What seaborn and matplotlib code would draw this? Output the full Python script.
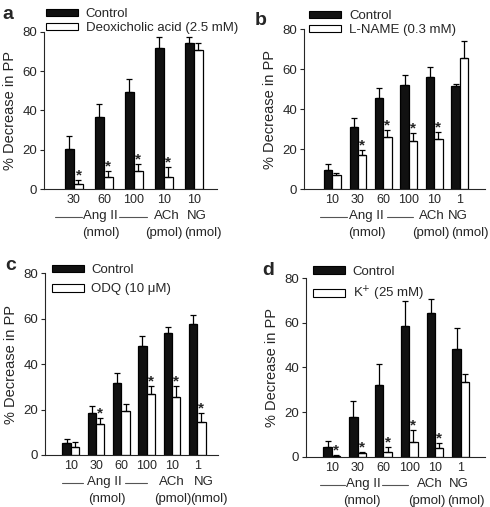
import numpy as np
import pandas as pd
import matplotlib
matplotlib.use("Agg")
import matplotlib.pyplot as plt
import matplotlib.transforms as mtransforms
from matplotlib.patches import Patch
import seaborn as sns

# Panel a: deoxicholic acid
a_ticks = ["30", "60", "100", "10", "10"]
a_ctrl = [20.5, 36.8, 49.5, 71.9, 74.0]
a_ctrl_err = [6.5, 6.4, 6.4, 5.6, 3.5]
a_trt = [2.5, 5.9, 9.2, 5.9, 70.7]
a_trt_err = [2.1, 3.4, 3.5, 5.5, 3.3]
a_star = [1, 1, 1, 1, 0]

# Panel b: L-NAME
b_ticks = ["10", "30", "60", "100", "10", "1"]
b_ctrl = [9.5, 31.2, 45.4, 52.1, 56.3, 51.5]
b_ctrl_err = [3.0, 4.2, 5.0, 5.0, 5.0, 1.1]
b_trt = [7.0, 17.0, 26.2, 24.0, 25.0, 65.4]
b_trt_err = [1.2, 2.5, 3.3, 3.9, 3.7, 8.9]
b_star = [0, 1, 1, 1, 1, 0]

# Panel c: ODQ
c_ticks = ["10", "30", "60", "100", "10", "1"]
c_ctrl = [5.1, 18.6, 31.9, 48.0, 53.6, 57.6]
c_ctrl_err = [1.8, 2.8, 4.1, 4.4, 2.6, 4.1]
c_trt = [3.7, 13.5, 19.4, 26.7, 25.4, 14.4]
c_trt_err = [2.2, 2.7, 2.9, 3.7, 5.0, 4.0]
c_star = [0, 1, 0, 1, 1, 1]

# Panel d: K+
d_ticks = ["10", "30", "60", "100", "10", "1"]
d_ctrl = [4.5, 17.9, 32.1, 58.6, 64.6, 48.3]
d_ctrl_err = [2.5, 7.1, 9.3, 11.4, 6.0, 9.2]
d_trt = [0.4, 1.5, 2.2, 6.7, 3.7, 33.3]
d_trt_err = [0.3, 0.7, 2.3, 5.3, 2.3, 3.8]
d_star = [1, 1, 1, 1, 1, 0]

sns.set_theme(style="ticks")
plt.rcParams["font.family"] = ["Liberation Sans", "DejaVu Sans"]
plt.rcParams["axes.linewidth"] = 0.8

fig = plt.figure(figsize=(4.9, 5.07), dpi=100)
PX = 0.72  # points per pixel at dpi 100

panels = [
    dict(letter="a", rect=[0.0898, 0.6272, 0.353, 0.3103], xlim=(-1.0, 4.77), width=0.6,
         ticks=a_ticks, ctrl=a_ctrl, ctrl_err=a_ctrl_err, trt=a_trt, trt_err=a_trt_err, star=a_star,
         label="Deoxicholic acid (2.5 mM)", leg=(0.012, 1.148), legsp=0.15,
         ang=0.87, lines=[(-0.63, 0.27), (1.5, 2.43)], ach=3.1, ng=4.1, u1=0.9, u2=3.0, u3=4.3,
         lpos=(2 / 490, 1 - 19 / 507)),
    dict(letter="b", rect=[0.6204, 0.6272, 0.3694, 0.315], xlim=(-1.11, 5.99), width=0.65,
         ticks=b_ticks, ctrl=b_ctrl, ctrl_err=b_ctrl_err, trt=b_trt, trt_err=b_trt_err, star=b_star,
         label="L-NAME (0.3 mM)", leg=(0.03, 1.12), legsp=0.15,
         ang=1.32, lines=[(-0.48, 0.58), (2.14, 3.16)], ach=3.9, ng=4.93, u1=1.35, u2=3.85, u3=5.4,
         lpos=(255 / 490, 1 - 25 / 507)),
    dict(letter="c", rect=[0.0918, 0.1026, 0.353, 0.3584], xlim=(-1.02, 5.82), width=0.66,
         ticks=c_ticks, ctrl=c_ctrl, ctrl_err=c_ctrl_err, trt=c_trt, trt_err=c_trt_err, star=c_star,
         label="ODQ (10 \u03bcM)", leg=(0.04, 1.05), legsp=0.55,
         ang=1.32, lines=[(-0.34, 0.49), (2.15, 3.0)], ach=4.0, ng=5.27, u1=1.42, u2=4.05, u3=5.45,
         lpos=(5 / 490, 1 - 270 / 507)),
    dict(letter="d", rect=[0.6245, 0.0992, 0.3653, 0.352], xlim=(-1.0, 5.94), width=0.65,
         ticks=d_ticks, ctrl=d_ctrl, ctrl_err=d_ctrl_err, trt=d_trt, trt_err=d_trt_err, star=d_star,
         label="K$^{+}$ (25 mM)", leg=(0.04, 1.07), legsp=0.55,
         ang=1.21, lines=[(-0.45, 0.52), (1.95, 2.96)], ach=3.81, ng=4.93, u1=1.18, u2=3.7, u3=5.2,
         lpos=(262 / 490, 1 - 275 / 507)),
]

for p in panels:
    ax = fig.add_axes(p["rect"])
    n = len(p["ticks"])
    df = pd.DataFrame({
        "group": list(range(n)) * 2,
        "cond": ["Control"] * n + ["Treated"] * n,
        "value": p["ctrl"] + p["trt"],
    })
    sns.barplot(data=df, x="group", y="value", hue="cond", palette=["#111111", "white"],
                edgecolor="black", linewidth=0.9, width=p["width"], gap=0,
                errorbar=None, legend=False, ax=ax)
    pos = np.arange(n)
    q = p["width"] / 4
    for xs, vals, errs in [(pos - q, p["ctrl"], p["ctrl_err"]), (pos + q, p["trt"], p["trt_err"])]:
        ax.errorbar(xs, vals, yerr=[np.zeros(n), errs], fmt="none", ecolor="black",
                    elinewidth=0.9, capsize=2.4, capthick=0.9, zorder=3)
    for i in range(n):
        if p["star"][i]:
            ax.text(pos[i] + q, p["trt"][i] + p["trt_err"][i] + 0.3, "*", ha="center",
                    va="baseline", fontsize=11, fontweight="bold")

    ax.set_xlim(*p["xlim"])
    ax.set_ylim(0, 80)
    ax.set_yticks([0, 20, 40, 60, 80])
    ax.set_xticks(pos)
    ax.set_xticklabels(p["ticks"], fontsize=9)
    ax.tick_params(axis="x", length=0, pad=3.5)
    ax.tick_params(axis="y", length=3, width=0.8, labelsize=9.5, pad=2)
    ax.set_xlabel("")
    ax.set_ylabel("% Decrease in PP", fontsize=10.5, labelpad=4)
    sns.despine(ax=ax)

    # group labels below the axis
    xt = ax.get_xaxis_transform()
    def lab(x, s, dy):
        ax.annotate(s, xy=(x, 0), xycoords=xt, xytext=(0, -dy * PX), textcoords="offset points",
                    ha="center", va="center", fontsize=9.5, annotation_clip=False)
    lab(p["ang"], "Ang II", 27)
    lab(p["ach"], "ACh", 27)
    lab(p["ng"], "NG", 27)
    lab(p["u1"], "(nmol)", 44)
    lab(p["u2"], "(pmol)", 44)
    lab(p["u3"], "(nmol)", 44)
    line_tr = mtransforms.offset_copy(xt, fig=fig, x=0, y=-28 * PX, units="points")
    for x0, x1 in p["lines"]:
        ax.plot([x0, x1], [0, 0], color="#555555", lw=0.8, transform=line_tr, clip_on=False)

    handles = [Patch(facecolor="#111111", edgecolor="black", lw=0.8, label="Control"),
               Patch(facecolor="white", edgecolor="black", lw=0.8, label=p["label"])]
    ax.legend(handles=handles, loc="upper left", bbox_to_anchor=p["leg"], frameon=False,
              fontsize=9.5, handlelength=2.4, handleheight=0.5, handletextpad=0.6,
              labelspacing=p["legsp"], borderpad=0, borderaxespad=0)

    fig.text(p["lpos"][0], p["lpos"][1], p["letter"], fontsize=14, fontweight="bold",
             va="baseline", ha="left")

fig.savefig("out.png", dpi=100)
